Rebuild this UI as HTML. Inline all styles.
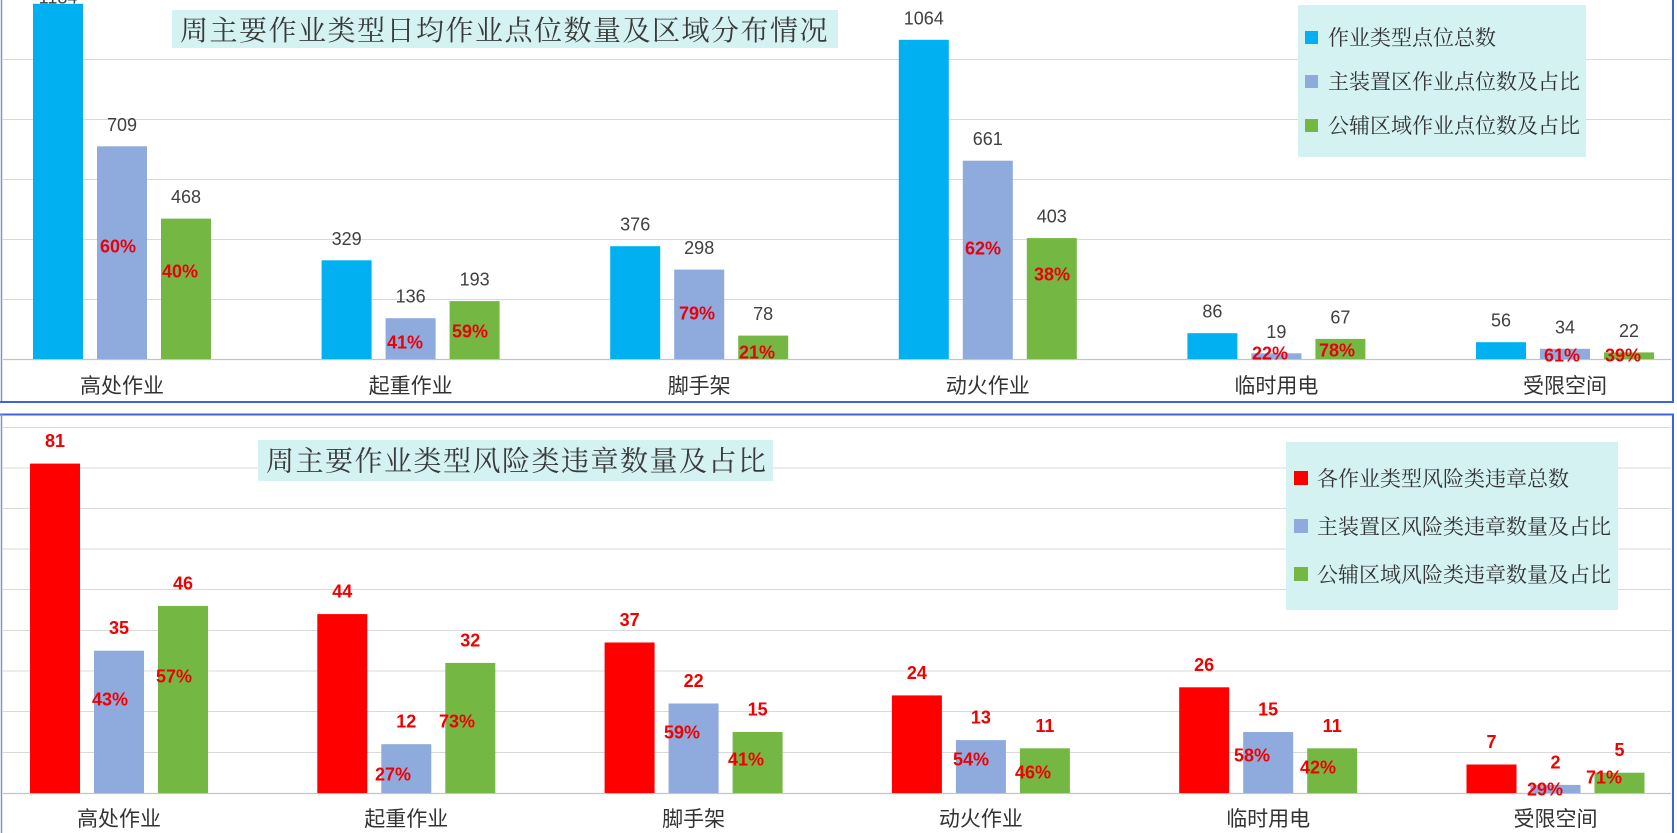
<!DOCTYPE html>
<html>
<head>
<meta charset="utf-8">
<style>
html,body{margin:0;padding:0;background:#fff;}
body{width:1677px;height:833px;overflow:hidden;}
svg{display:block;}
.val{font-family:"Liberation Sans","Noto Sans CJK SC",sans-serif;font-size:18px;fill:#404040;text-anchor:middle;}
.pct{font-family:"Liberation Sans","Noto Sans CJK SC",sans-serif;font-size:18px;font-weight:bold;fill:#e8000b;text-anchor:middle;}
.rv{font-family:"Liberation Sans","Noto Sans CJK SC",sans-serif;font-size:18px;font-weight:bold;fill:#f00000;text-anchor:middle;}
.cat{font-family:"Liberation Sans","Noto Sans CJK SC",sans-serif;font-size:21px;fill:#333;text-anchor:middle;}
.ttl{font-family:"Liberation Serif","Noto Serif CJK SC",serif;font-size:28px;fill:#3a3a3a;letter-spacing:1.5px;}
.leg{font-family:"Liberation Serif","Noto Serif CJK SC",serif;font-size:21px;fill:#333;}
</style>
</head>
<body>
<svg width="1677" height="833" viewBox="0 0 1677 833" xmlns="http://www.w3.org/2000/svg">
<rect x="0" y="0" width="1677" height="833" fill="#fff"/>

<!-- ============ TOP PANEL ============ -->
<g stroke="#d9d9d9" stroke-width="1">
  <line x1="3" y1="59.5" x2="1671" y2="59.5"/>
  <line x1="3" y1="119.5" x2="1671" y2="119.5"/>
  <line x1="3" y1="179.5" x2="1671" y2="179.5"/>
  <line x1="3" y1="239.5" x2="1671" y2="239.5"/>
  <line x1="3" y1="299.5" x2="1671" y2="299.5"/>
</g>
<line x1="3" y1="359.5" x2="1671" y2="359.5" stroke="#c4c4c4" stroke-width="1.2"/>

<!-- bars top -->
<g>
  <!-- G1 c=122 -->
  <rect x="33" y="3.8" width="50" height="355.2" fill="#00b0f0"/>
  <rect x="97" y="146.3" width="50" height="212.7" fill="#8faadc"/>
  <rect x="161" y="218.6" width="50" height="140.4" fill="#74b843"/>
  <!-- G2 c=410.6 -->
  <rect x="321.6" y="260.3" width="50" height="98.7" fill="#00b0f0"/>
  <rect x="385.6" y="318.2" width="50" height="40.8" fill="#8faadc"/>
  <rect x="449.6" y="301.1" width="50" height="57.9" fill="#74b843"/>
  <!-- G3 c=699.2 -->
  <rect x="610.2" y="246.2" width="50" height="112.8" fill="#00b0f0"/>
  <rect x="674.2" y="269.6" width="50" height="89.4" fill="#8faadc"/>
  <rect x="738.2" y="335.6" width="50" height="23.4" fill="#74b843"/>
  <!-- G4 c=987.8 -->
  <rect x="898.8" y="39.8" width="50" height="319.2" fill="#00b0f0"/>
  <rect x="962.8" y="160.7" width="50" height="198.3" fill="#8faadc"/>
  <rect x="1026.8" y="238.1" width="50" height="120.9" fill="#74b843"/>
  <!-- G5 c=1276.4 -->
  <rect x="1187.4" y="333.2" width="50" height="25.8" fill="#00b0f0"/>
  <rect x="1251.4" y="353.3" width="50" height="5.7" fill="#8faadc"/>
  <rect x="1315.4" y="338.9" width="50" height="20.1" fill="#74b843"/>
  <!-- G6 c=1565 -->
  <rect x="1476" y="342.2" width="50" height="16.8" fill="#00b0f0"/>
  <rect x="1540" y="348.8" width="50" height="10.2" fill="#8faadc"/>
  <rect x="1604" y="352.4" width="50" height="6.6" fill="#74b843"/>
</g>

<!-- top value labels (baseline = top - 15.5) -->
<g>
  <text class="val" x="58" y="3.5">1184</text>
  <text class="val" x="122" y="130.8">709</text>
  <text class="val" x="186" y="203.1">468</text>
  <text class="val" x="346.6" y="244.8">329</text>
  <text class="val" x="410.6" y="302.7">136</text>
  <text class="val" x="474.6" y="285.6">193</text>
  <text class="val" x="635.2" y="230.7">376</text>
  <text class="val" x="699.2" y="254.1">298</text>
  <text class="val" x="763.2" y="320.1">78</text>
  <text class="val" x="923.8" y="24.3">1064</text>
  <text class="val" x="987.8" y="145.2">661</text>
  <text class="val" x="1051.8" y="222.6">403</text>
  <text class="val" x="1212.4" y="317.7">86</text>
  <text class="val" x="1276.4" y="337.8">19</text>
  <text class="val" x="1340.4" y="323.4">67</text>
  <text class="val" x="1501" y="326.7">56</text>
  <text class="val" x="1565" y="333.3">34</text>
  <text class="val" x="1629" y="336.9">22</text>
</g>

<!-- top percent labels -->
<g>
  <text class="pct" x="118" y="252.5">60%</text>
  <text class="pct" x="180" y="277.5">40%</text>
  <text class="pct" x="405" y="348.5">41%</text>
  <text class="pct" x="470" y="337.5">59%</text>
  <text class="pct" x="697" y="319.5">79%</text>
  <text class="pct" x="757" y="358.5">21%</text>
  <text class="pct" x="983" y="254.5">62%</text>
  <text class="pct" x="1052" y="280.5">38%</text>
  <text class="pct" x="1270" y="359.5">22%</text>
  <text class="pct" x="1337" y="356.5">78%</text>
  <text class="pct" x="1562" y="361.5">61%</text>
  <text class="pct" x="1623" y="361.5">39%</text>
</g>

<!-- top categories -->
<g>
  <text class="cat" x="122" y="393">高处作业</text>
  <text class="cat" x="410.6" y="393">起重作业</text>
  <text class="cat" x="699.2" y="393">脚手架</text>
  <text class="cat" x="987.8" y="393">动火作业</text>
  <text class="cat" x="1276.4" y="393">临时用电</text>
  <text class="cat" x="1565" y="393">受限空间</text>
</g>

<!-- top title -->
<rect x="172" y="10" width="666" height="38" fill="#d3f2f1"/>
<text class="ttl" x="180" y="40">周主要作业类型日均作业点位数量及区域分布情况</text>

<!-- top legend -->
<rect x="1298" y="5" width="288" height="152" fill="#d3f2f1"/>
<rect x="1305" y="31" width="13" height="13" fill="#00b0f0"/>
<rect x="1305" y="75" width="13" height="13" fill="#8faadc"/>
<rect x="1305" y="119" width="13" height="13" fill="#74b843"/>
<text class="leg" x="1328" y="45">作业类型点位总数</text>
<text class="leg" x="1328" y="89">主装置区作业点位数及占比</text>
<text class="leg" x="1328" y="133">公辅区域作业点位数及占比</text>

<!-- top panel borders -->
<line x1="1.5" y1="0" x2="1.5" y2="403" stroke="#8193c9" stroke-width="1.5"/>
<line x1="1673" y1="0" x2="1673" y2="403" stroke="#3f63df" stroke-width="2"/>
<line x1="0" y1="402" x2="1674" y2="402" stroke="#3f63df" stroke-width="2"/>

<!-- ============ BOTTOM PANEL ============ -->
<g stroke="#d9d9d9" stroke-width="1">
  <line x1="3" y1="427.5" x2="1671" y2="427.5"/>
  <line x1="3" y1="468" x2="1671" y2="468"/>
  <line x1="3" y1="508.5" x2="1671" y2="508.5"/>
  <line x1="3" y1="549" x2="1671" y2="549"/>
  <line x1="3" y1="589.5" x2="1671" y2="589.5"/>
  <line x1="3" y1="630.5" x2="1671" y2="630.5"/>
  <line x1="3" y1="671" x2="1671" y2="671"/>
  <line x1="3" y1="711.5" x2="1671" y2="711.5"/>
  <line x1="3" y1="752.5" x2="1671" y2="752.5"/>
</g>
<line x1="3" y1="793.5" x2="1671" y2="793.5" stroke="#c4c4c4" stroke-width="1.2"/>

<!-- bars bottom -->
<g>
  <!-- G1 c=119 -->
  <rect x="30" y="463.6" width="50" height="329.4" fill="#ff0000"/>
  <rect x="94" y="650.7" width="50" height="142.3" fill="#8faadc"/>
  <rect x="158" y="605.9" width="50" height="187.1" fill="#74b843"/>
  <!-- G2 c=406.3 -->
  <rect x="317.3" y="614.1" width="50" height="178.9" fill="#ff0000"/>
  <rect x="381.3" y="744.2" width="50" height="48.8" fill="#8faadc"/>
  <rect x="445.3" y="662.9" width="50" height="130.1" fill="#74b843"/>
  <!-- G3 c=693.6 -->
  <rect x="604.6" y="642.5" width="50" height="150.5" fill="#ff0000"/>
  <rect x="668.6" y="703.5" width="50" height="89.5" fill="#8faadc"/>
  <rect x="732.6" y="732" width="50" height="61" fill="#74b843"/>
  <!-- G4 c=980.9 -->
  <rect x="891.9" y="695.4" width="50" height="97.6" fill="#ff0000"/>
  <rect x="955.9" y="740.1" width="50" height="52.9" fill="#8faadc"/>
  <rect x="1019.9" y="748.3" width="50" height="44.7" fill="#74b843"/>
  <!-- G5 c=1268.2 -->
  <rect x="1179.2" y="687.3" width="50" height="105.7" fill="#ff0000"/>
  <rect x="1243.2" y="732" width="50" height="61" fill="#8faadc"/>
  <rect x="1307.2" y="748.3" width="50" height="44.7" fill="#74b843"/>
  <!-- G6 c=1555.5 -->
  <rect x="1466.5" y="764.5" width="50" height="28.5" fill="#ff0000"/>
  <rect x="1530.5" y="784.9" width="50" height="8.1" fill="#8faadc"/>
  <rect x="1594.5" y="772.7" width="50" height="20.3" fill="#74b843"/>
</g>

<!-- bottom value labels (baseline = top - 16.5) -->
<g>
  <text class="rv" x="55" y="447.1">81</text>
  <text class="rv" x="119" y="634.2">35</text>
  <text class="rv" x="183" y="589.4">46</text>
  <text class="rv" x="342.3" y="597.6">44</text>
  <text class="rv" x="406.3" y="727.7">12</text>
  <text class="rv" x="470.3" y="646.4">32</text>
  <text class="rv" x="629.6" y="626">37</text>
  <text class="rv" x="693.6" y="687">22</text>
  <text class="rv" x="757.6" y="715.5">15</text>
  <text class="rv" x="916.9" y="678.9">24</text>
  <text class="rv" x="980.9" y="723.6">13</text>
  <text class="rv" x="1044.9" y="731.8">11</text>
  <text class="rv" x="1204.2" y="670.8">26</text>
  <text class="rv" x="1268.2" y="715.5">15</text>
  <text class="rv" x="1332.2" y="731.8">11</text>
  <text class="rv" x="1491.5" y="748">7</text>
  <text class="rv" x="1555.5" y="768.4">2</text>
  <text class="rv" x="1619.5" y="756.2">5</text>
</g>

<!-- bottom percent labels -->
<g>
  <text class="rv" x="110" y="705.5">43%</text>
  <text class="rv" x="174" y="682.5">57%</text>
  <text class="rv" x="393" y="780.5">27%</text>
  <text class="rv" x="457" y="727.5">73%</text>
  <text class="rv" x="682" y="738.5">59%</text>
  <text class="rv" x="746" y="765.5">41%</text>
  <text class="rv" x="971" y="765.5">54%</text>
  <text class="rv" x="1033" y="778.5">46%</text>
  <text class="rv" x="1252" y="761.5">58%</text>
  <text class="rv" x="1318" y="773.5">42%</text>
  <text class="rv" x="1545" y="795.5">29%</text>
  <text class="rv" x="1604" y="783.5">71%</text>
</g>

<!-- bottom categories -->
<g>
  <text class="cat" x="119" y="826">高处作业</text>
  <text class="cat" x="406.3" y="826">起重作业</text>
  <text class="cat" x="693.6" y="826">脚手架</text>
  <text class="cat" x="980.9" y="826">动火作业</text>
  <text class="cat" x="1268.2" y="826">临时用电</text>
  <text class="cat" x="1555.5" y="826">受限空间</text>
</g>

<!-- bottom title -->
<rect x="258" y="440" width="515" height="41" fill="#d3f2f1"/>
<text class="ttl" x="266" y="470.5">周主要作业类型风险类违章数量及占比</text>

<!-- bottom legend -->
<rect x="1286" y="442" width="332" height="168" fill="#d3f2f1"/>
<rect x="1294" y="471" width="14" height="14" fill="#ff0000"/>
<rect x="1294" y="519" width="14" height="14" fill="#8faadc"/>
<rect x="1294" y="567" width="14" height="14" fill="#74b843"/>
<text class="leg" x="1317" y="486">各作业类型风险类违章总数</text>
<text class="leg" x="1317" y="534">主装置区风险类违章数量及占比</text>
<text class="leg" x="1317" y="582">公辅区域风险类违章数量及占比</text>

<!-- bottom panel borders -->
<line x1="0" y1="414.5" x2="1674" y2="414.5" stroke="#3f63df" stroke-width="2"/>
<line x1="1.5" y1="414" x2="1.5" y2="833" stroke="#8193c9" stroke-width="1.5"/>
<line x1="1673" y1="414" x2="1673" y2="833" stroke="#3f63df" stroke-width="2"/>
</svg>
</body>
</html>
